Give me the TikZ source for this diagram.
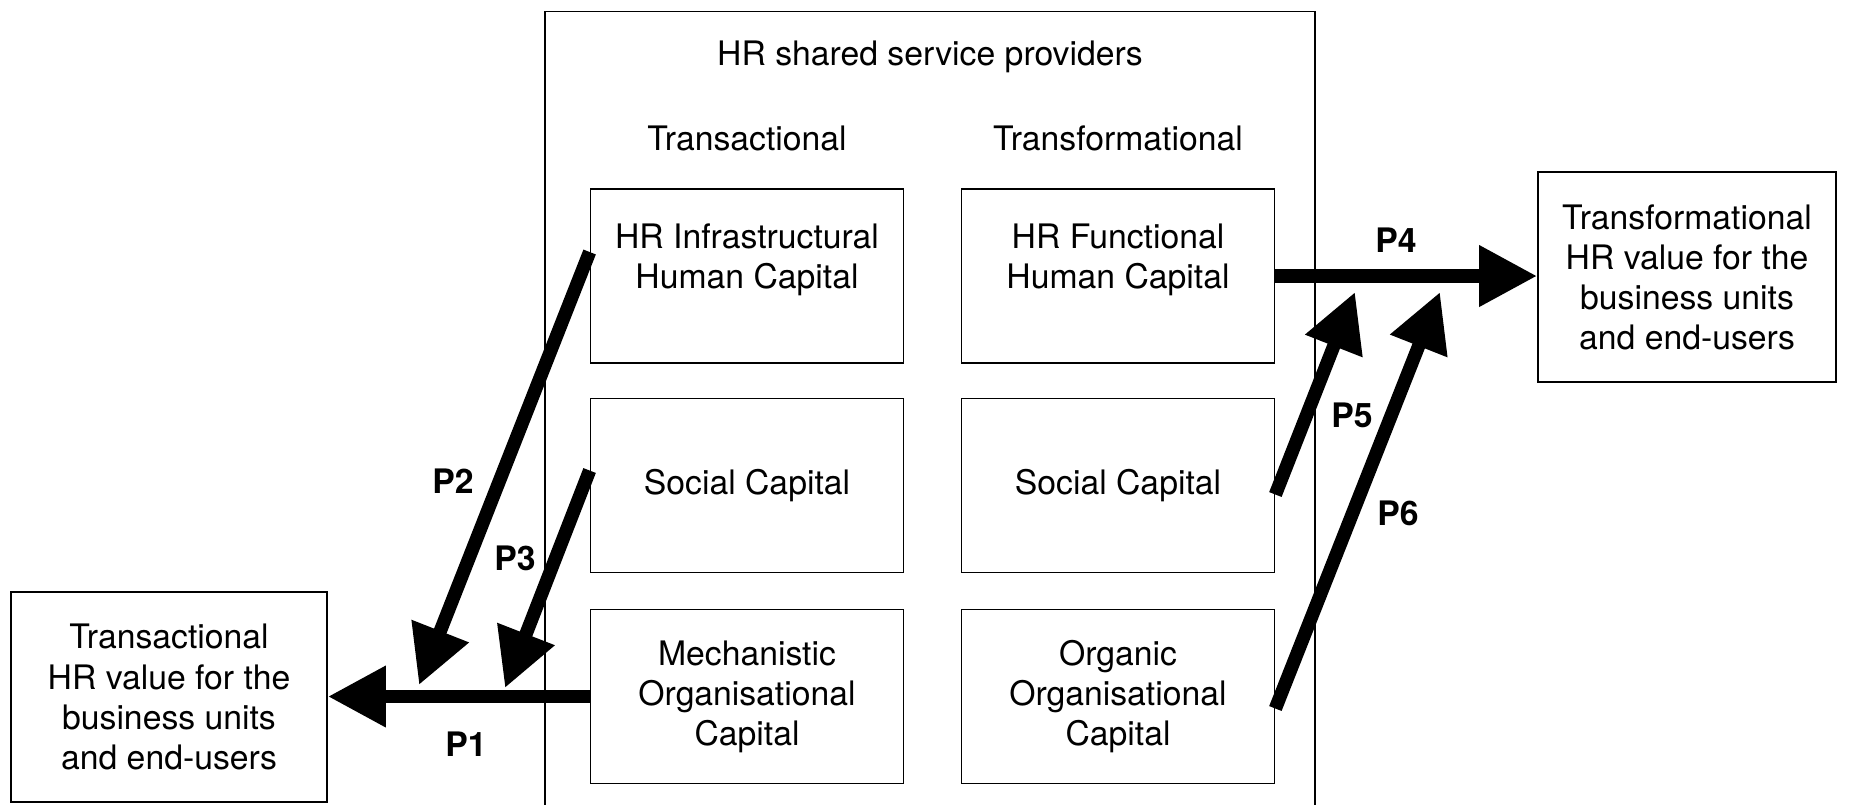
\documentclass[tikz,border=0pt]{standalone}
\usepackage{fontspec}
\setmainfont{TeX Gyre Heros}
\usetikzlibrary{arrows.meta}

\begin{document}
\begin{tikzpicture}
			\useasboundingbox (0,0) rectangle (18.5,-8.04);
			\tikzstyle{every node}=[align=center, inner sep=1pt, font=\fontsize{9.6}{11.4}\selectfont]
			\tikzstyle{capbox}=[draw, line width=0.5pt, minimum width=3.13cm, minimum height=1.74cm]
			\tikzstyle{valbox}=[draw, line width=0.5pt, minimum height=2.10cm]
			\tikzstyle{effect}=[line width=3.8pt, -{Triangle[length=0.58cm, width=0.58cm]}]
			\tikzstyle{plabel}=[font=\fontsize{9.6}{11.4}\selectfont\bfseries]
				\node[draw, line width=0.4pt, minimum width=7.70cm, minimum height=8.3cm, anchor=north] (hrssp) at (9.30,-0.11) {};
				\node (title) at (9.30,-0.57) {HR shared service providers};
				\node (trans) at (7.47,-1.38) {Transactional};
				\node (transf) at (11.18,-1.38) {Transformational};
			
				\node[capbox] (infra) at (7.47,-2.76) {HR Infrastructural\\Human Capital\\\mbox{}};
				\node[capbox] (func) at (11.18,-2.76) {HR Functional\\Human Capital\\\mbox{}};
				\node[capbox] (socl) at (7.47,-4.855) {Social Capital};
				\node[capbox] (socr) at (11.18,-4.855) {Social Capital};
				\node[capbox] (mech) at (7.47,-6.965) {Mechanistic\\Organisational\\Capital};
				\node[capbox] (org) at (11.18,-6.965) {Organic\\Organisational\\Capital};
			
				\node[valbox, minimum width=3.16cm] (trval) at (1.69,-6.97) {Transactional\\HR value for the\\business units\\and end-users};
				\node[valbox, minimum width=2.98cm] (tfval) at (16.87,-2.77) {Transformational\\HR value for the\\business units\\and end-users};
			
				\coordinate (p2tip) at (4.19,-6.85);
				\coordinate (p3tip) at (5.05,-6.88);
				\coordinate (p5tip) at (13.55,-2.92);
				\coordinate (p6tip) at (14.40,-2.92);
			
				\draw[effect]  (mech.west) to (mech.west -| trval.east);
				\draw[effect]  ([yshift=0.24cm]infra.west) to (p2tip);
				\draw[effect]  ([yshift=0.15cm]socl.west) to (p3tip);
				\draw[effect]  (func.east) to (func.east -| tfval.west);
				\draw[effect]  ([yshift=-0.09cm]socr.east) to (p5tip);
				\draw[effect]  ([yshift=-0.12cm]org.east) to (p6tip);
			
				\node[plabel] (p1) at (4.66,-7.44) {P1};
				\node[plabel] (p2) at (4.53,-4.81) {P2};
				\node[plabel] (p3) at (5.15,-5.58) {P3};
				\node[plabel] (p4) at (13.96,-2.40) {P4};
				\node[plabel] (p5) at (13.52,-4.15) {P5};
				\node[plabel] (p6) at (13.98,-5.13) {P6};
		\end{tikzpicture}
\end{document}
